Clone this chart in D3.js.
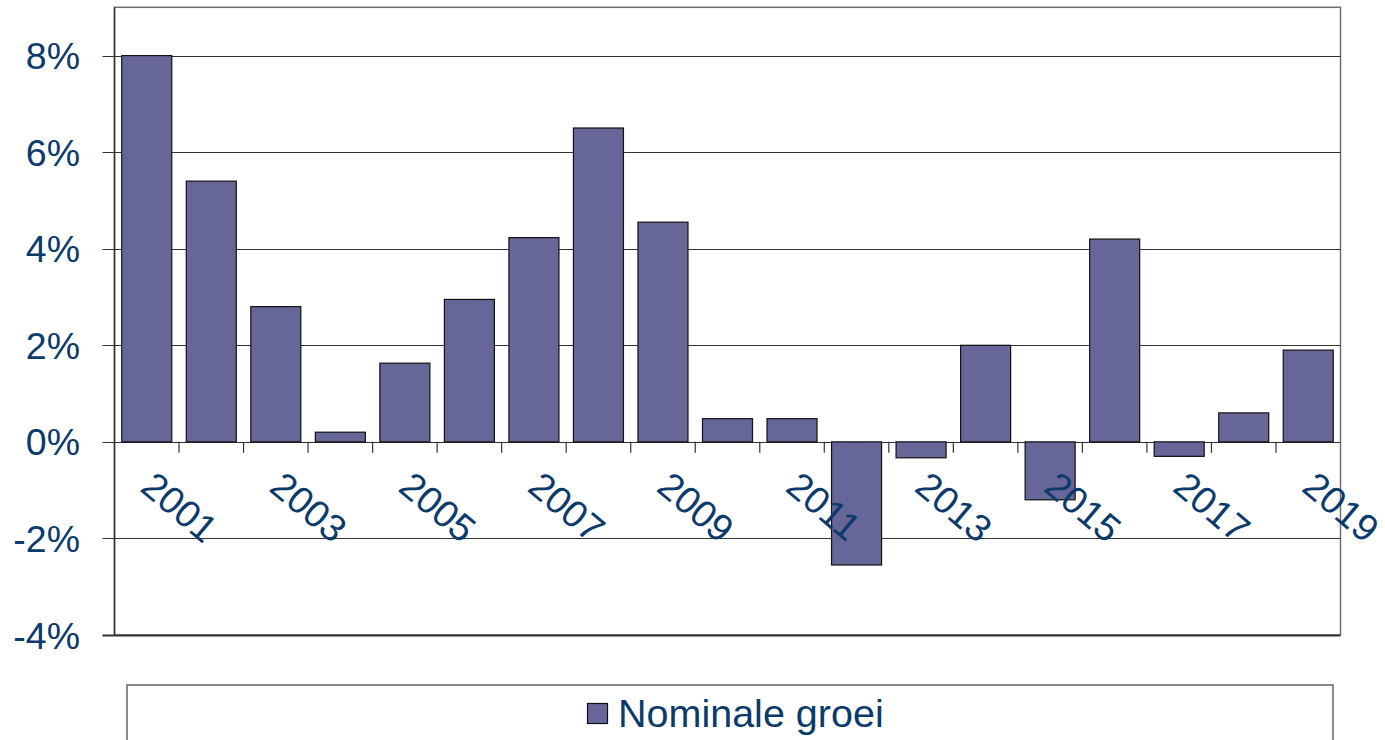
<!DOCTYPE html>
<html>
<head>
<meta charset="utf-8">
<script src="https://cdnjs.cloudflare.com/ajax/libs/d3/7.8.5/d3.min.js"></script>
<style>
  body { margin: 0; background: #fff; }
  text { font-family: "Liberation Sans", Arial, sans-serif; fill: #0b3a6b; }
</style>
</head>
<body>
<div class="svgContainer"></div>
<script>
/* data */
var years = ["2001", "2002", "2003", "2004", "2005", "2006", "2007", "2008", "2009", "2010",
             "2011", "2012", "2013", "2014", "2015", "2016", "2017", "2018", "2019"];
var groei = [8.0, 5.4, 2.8, 0.2, 1.63, 2.95, 4.23, 6.5, 4.55, 0.48,
             0.48, -2.55, -0.33, 2.0, -1.2, 4.2, -0.3, 0.6, 1.9];
var yTicks = [-4, -2, 0, 2, 4, 6, 8];
var yearLabels = ["2001", "2003", "2005", "2007", "2009", "2011", "2013", "2015", "2017", "2019"];
var seriesName = "Nominale groei";

var canvas_width = 1385,
    canvas_height = 740;

/* plot area edges ("top" is taken by window.top) */
var plot_left = 114.5, plot_right = 1340.5, plot_top = 7.3, plot_bottom = 635;
var bar_color = "#666699";

var svg = d3.select(".svgContainer")
  .append("svg")
    .attr("width", canvas_width)
    .attr("height", canvas_height);

var x = d3.scaleBand()
    .domain(years)
    .range([plot_left, plot_right])
    .paddingInner(0.225)
    .paddingOuter(0.1125);

var y = d3.scaleLinear()
    .domain([-4, 9])
    .range([plot_bottom, plot_top]);

/* plot area border */
svg.append("rect")
  .attr("x", plot_left)
  .attr("y", plot_top)
  .attr("width", plot_right - plot_left)
  .attr("height", plot_bottom - plot_top)
  .attr("fill", "none")
  .attr("stroke", "#707070")
  .attr("stroke-width", 1.5);

/* gridlines + y ticks */
svg.append("g")
  .selectAll("line")
  .data(yTicks)
  .enter()
    .append("line")
      .attr("x1", plot_left - 12)
      .attr("x2", plot_right)
      .attr("y1", function(d) { return Math.round(y(d)) + 0.5; })
      .attr("y2", function(d) { return Math.round(y(d)) + 0.5; })
      .attr("stroke", "#333")
      .attr("stroke-width", function(d) { return d == -4 ? 2 : 1.2; });

/* left axis line */
svg.append("line")
  .attr("x1", plot_left).attr("x2", plot_left)
  .attr("y1", plot_top).attr("y2", plot_bottom)
  .attr("stroke", "#333")
  .attr("stroke-width", 1.5);

/* y labels */
svg.append("g")
  .selectAll("text")
  .data(yTicks)
  .enter()
    .append("text")
      .attr("x", 80)
      .attr("y", function(d) { return y(d); })
      .attr("dy", "0.36em")
      .attr("text-anchor", "end")
      .attr("font-size", 37.5)
      .text(function(d) { return d + "%"; });

/* bars */
svg.append("g")
  .selectAll("rect")
  .data(groei)
  .enter()
    .append("rect")
      .attr("x", function(d, i) { return x(years[i]); })
      .attr("y", function(d) { return y(Math.max(0, d)); })
      .attr("width", x.bandwidth())
      .attr("height", function(d) { return Math.abs(y(d) - y(0)); })
      .attr("fill", bar_color)
      .attr("stroke", "#111")
      .attr("stroke-width", 1.2);

/* category ticks below zero line */
svg.append("g")
  .selectAll("line")
  .data(years.slice(1))
  .enter()
    .append("line")
      .attr("x1", function(d) { return x(d) - x.step() * x.paddingInner() / 2; })
      .attr("x2", function(d) { return x(d) - x.step() * x.paddingInner() / 2; })
      .attr("y1", y(0))
      .attr("y2", y(0) + 11)
      .attr("stroke", "#333")
      .attr("stroke-width", 1.2);

/* year labels, rotated */
svg.append("g")
  .selectAll("text")
  .data(yearLabels)
  .enter()
    .append("text")
      .attr("font-size", 38)
      .attr("transform", function(d) {
        var cx = x(d) + x.bandwidth() / 2 - 8;
        return "translate(" + cx + ",490) rotate(40)";
      })
      .text(function(d) { return d; });

/* legend */
svg.append("rect")
  .attr("x", 127)
  .attr("y", 685)
  .attr("width", 1206)
  .attr("height", 80)
  .attr("fill", "none")
  .attr("stroke", "#666")
  .attr("stroke-width", 1.5);

svg.append("rect")
  .attr("x", 587.5)
  .attr("y", 703.5)
  .attr("width", 20)
  .attr("height", 20)
  .attr("fill", bar_color)
  .attr("stroke", "#111")
  .attr("stroke-width", 1.2);

svg.append("text")
  .attr("x", 618)
  .attr("y", 727)
  .attr("font-size", 39.5)
  .text(seriesName);
</script>
</body>
</html>
